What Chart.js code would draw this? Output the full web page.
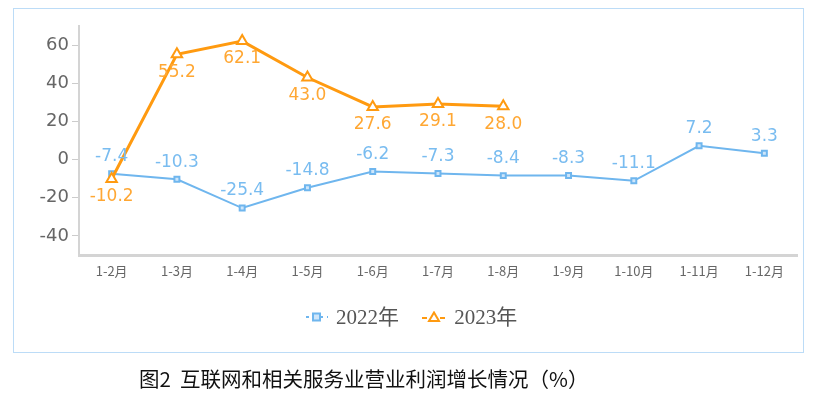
<!DOCTYPE html>
<html>
<head>
<meta charset="utf-8">
<script src="https://cdn.jsdelivr.net/npm/chart.js@4"></script>
<style>
  body { margin: 0; width: 823px; height: 399px; background: #fff; position: relative; overflow: hidden; }
  #frame { position: absolute; left: 13px; top: 8px; width: 789px; height: 343px; border: 1px solid #bcdcf7; }
  #c { position: absolute; left: 0; top: 0; }
  #legend { position: absolute; top: 300px; left: 0; width: 823px; text-align: center; font-family: "Liberation Serif", "Noto Sans CJK SC", serif; font-size: 21px; color: #555; }
  #legend span.item { display: inline-block; margin: 0 9px; }
  #legend svg { vertical-align: middle; margin-right: 8px; position: relative; top: -2px; }
  #title { position: absolute; top: 363px; left: 139px; white-space: nowrap; font-family: "Noto Sans CJK SC", sans-serif; font-size: 20.5px; color: #111; }
</style>
</head>
<body>
<div id="frame"></div>
<canvas id="c" width="823" height="399"></canvas>
<div id="legend">
  <span class="item"><svg width="22" height="12"><line x1="0" y1="6" x2="22" y2="6" stroke="#6fb6ee" stroke-width="2" stroke-dasharray="3,4"/><rect x="7" y="2.5" width="7" height="7" fill="#cfe6fa" stroke="#6fb6ee" stroke-width="2"/></svg>2022年</span>
  <span class="item"><svg width="24" height="12"><line x1="0" y1="7" x2="24" y2="7" stroke="#ff9a10" stroke-width="2" stroke-dasharray="5,4"/><polygon points="12,1.5 17,10 7,10" fill="#fff" stroke="#ff9a10" stroke-width="2"/></svg>2023年</span>
</div>
<div id="title">图2&nbsp;&nbsp;互联网和相关服务业营业利润增长情况（%）</div>
<script>
const categories = ['1-2月', '1-3月', '1-4月', '1-5月', '1-6月', '1-7月', '1-8月', '1-9月', '1-10月', '1-11月', '1-12月'];
const values2022 = [-7.4, -10.3, -25.4, -14.8, -6.2, -7.3, -8.4, -8.3, -11.1, 7.2, 3.3];
const values2023 = [-10.2, 55.2, 62.1, 43.0, 27.6, 29.1, 28.0, null, null, null, null];
const yTicks = [-40, -20, 0, 20, 40, 60];

// draws the value next to each point
const valueLabels = {
  id: 'valueLabels',
  afterDatasetsDraw(chart) {
    const ctx = chart.ctx;
    chart.data.datasets.forEach((ds, i) => {
      const meta = chart.getDatasetMeta(i);
      ctx.save();
      ctx.font = '17px "DejaVu Sans", sans-serif';
      ctx.fillStyle = ds.labelColor;
      ctx.textAlign = 'center';
      ctx.textBaseline = 'middle';
      meta.data.forEach((pt, j) => {
        const v = ds.data[j];
        if (v === null) return;
        ctx.fillText(v.toFixed(1), pt.x, pt.y + ds.labelOffset);
      });
      ctx.restore();
    });
  }
};

new Chart(document.getElementById('c'), {
  type: 'line',
  data: {
    labels: categories,
    datasets: [
      {
        label: '2022年',
        data: values2022,
        borderColor: '#6fb6ee',
        borderWidth: 2,
        pointStyle: 'rect',
        pointRadius: 3.5,
        pointBackgroundColor: '#cfe6fa',
        pointBorderColor: '#6fb6ee',
        pointBorderWidth: 2,
        labelColor: '#79bcf0',
        labelOffset: -17,
        order: 1,
        tension: 0
      },
      {
        label: '2023年',
        data: values2023,
        borderColor: '#ff9a10',
        borderWidth: 3,
        pointStyle: 'triangle',
        pointRadius: 6,
        pointBackgroundColor: '#fff',
        pointBorderColor: '#ff9a10',
        pointBorderWidth: 2,
        labelColor: '#ffa733',
        labelOffset: 18,
        order: 0,
        spanGaps: false,
        tension: 0
      }
    ]
  },
  options: {
    responsive: false,
    animation: false,
    layout: { padding: { left: 34, right: 26, top: 26, bottom: 114 } },
    plugins: { legend: { display: false }, tooltip: { enabled: false } },
    scales: {
      x: {
        offset: true,
        afterFit: s => { s.height = 30; },
        grid: { drawOnChartArea: false, drawTicks: false },
        border: { color: '#d4d4d4', width: 3 },
        ticks: { color: '#666', padding: 8, font: { size: 13, family: '"Noto Sans CJK SC", sans-serif' } }
      },
      y: {
        min: -50,
        max: 70,
        afterFit: s => { s.width = 45; },
        afterBuildTicks: s => { s.ticks = yTicks.map(v => ({ value: v })); },
        grid: { drawOnChartArea: false, drawTicks: true, tickLength: 7, color: '#ccc', lineWidth: 1 },
        border: { color: '#d4d4d4', width: 2 },
        ticks: { color: '#666', padding: 3, font: { size: 18, family: '"DejaVu Sans", sans-serif' } }
      }
    }
  },
  plugins: [valueLabels]
});
</script>
</body>
</html>
